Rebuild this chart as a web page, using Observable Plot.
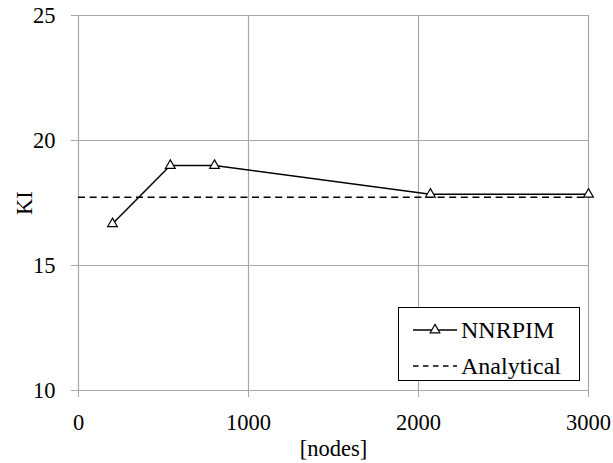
<!DOCTYPE html>
<html><head><meta charset="utf-8">
<script src="https://cdn.jsdelivr.net/npm/d3@7"></script>
<script src="https://cdn.jsdelivr.net/npm/@observablehq/plot@0.6"></script>
<style>
body{margin:0;background:#fff;}
#wrap{position:relative;width:613px;height:463px;}
#legend{position:absolute;left:398px;top:307px;width:182px;height:74px;border:1.3px solid #000;background:#fff;box-sizing:border-box;}
#legend svg{position:absolute;left:0;top:0;}
svg text{font-family:"Liberation Serif", "Times New Roman", serif !important;}
</style></head><body><div id="wrap"></div>
<script>
const nodes = [200, 540, 800, 2070, 3000];
const kiNNRPIM = [16.67, 19.0, 19.0, 17.85, 17.85];
const kiAnalytical = 17.73;
const xTicks = [0, 1000, 2000, 3000];
const yTicks = [10, 15, 20, 25];
const seriesNames = ["NNRPIM", "Analytical"];
const xLabel = "[nodes]";
const yLabel = "KI";

const FONT = '"Liberation Serif", "Times New Roman", serif';
const data = nodes.map((n, i) => ({nodes: n, ki: kiNNRPIM[i]}));
const gridStyle = {stroke: "#a8a8a8", strokeOpacity: 1, strokeWidth: 1.2};

const chart = Plot.plot({
  width: 613, height: 463,
  marginLeft: 78, marginRight: 25, marginTop: 15, marginBottom: 73,
  style: {fontFamily: FONT, fontSize: "22.5px", color: "#000", background: "#fff", overflow: "visible"},
  x: {domain: [0, 3000]},
  y: {domain: [10, 25]},
  marks: [
    Plot.gridX(xTicks, gridStyle),
    Plot.gridY(yTicks, gridStyle),
    Plot.axisX(xTicks, {tickSize: 7, tickPadding: 17, stroke: "#a8a8a8", fill: "#000", tickFormat: d => String(d), label: xLabel, labelAnchor: "center", labelArrow: "none", labelOffset: 65}),
    Plot.axisY(yTicks, {tickSize: 7, tickPadding: 16, stroke: "#a8a8a8", fill: "#000", tickFormat: d => String(d), label: yLabel, labelAnchor: "center", labelArrow: "none", labelOffset: 62}),
    Plot.ruleY([kiAnalytical], {stroke: "#000", strokeWidth: 1.5, strokeDasharray: "7,4.6"}),
    Plot.line(data, {x: "nodes", y: "ki", stroke: "#000", strokeWidth: 1.5}),
    Plot.dot(data, {x: "nodes", y: "ki", symbol: "triangle", r: 3.6, fill: "#fff", stroke: "#000", strokeWidth: 1.2})
  ]
});
const wrap = document.getElementById("wrap");
wrap.appendChild(chart);

// legend
const lg = document.createElement("div");
lg.id = "legend";
const ns = "http://www.w3.org/2000/svg";
const svg = document.createElementNS(ns, "svg");
svg.setAttribute("width", 182); svg.setAttribute("height", 74);
svg.style.fontSize = "24px";
const rows = [
  {name: seriesNames[0], y: 22, dash: null, marker: true},
  {name: seriesNames[1], y: 58, dash: "5.5,4.5", marker: false}
];
for (const r of rows) {
  const l = document.createElementNS(ns, "line");
  l.setAttribute("x1", 14); l.setAttribute("x2", 58);
  l.setAttribute("y1", r.y); l.setAttribute("y2", r.y);
  l.setAttribute("stroke", "#000"); l.setAttribute("stroke-width", 1.5);
  if (r.dash) l.setAttribute("stroke-dasharray", r.dash);
  svg.appendChild(l);
  if (r.marker) {
    const p = document.createElementNS(ns, "path");
    p.setAttribute("d", d3.symbol(d3.symbolTriangle, 3.6 * 3.6 * Math.PI)());
    p.setAttribute("transform", `translate(36,${r.y})`);
    p.setAttribute("fill", "#fff"); p.setAttribute("stroke", "#000"); p.setAttribute("stroke-width", 1.2);
    svg.appendChild(p);
  }
  const t = document.createElementNS(ns, "text");
  t.setAttribute("x", 62); t.setAttribute("y", r.y + 8);
  t.textContent = r.name;
  svg.appendChild(t);
}
lg.appendChild(svg);
wrap.appendChild(lg);
</script></body></html>
